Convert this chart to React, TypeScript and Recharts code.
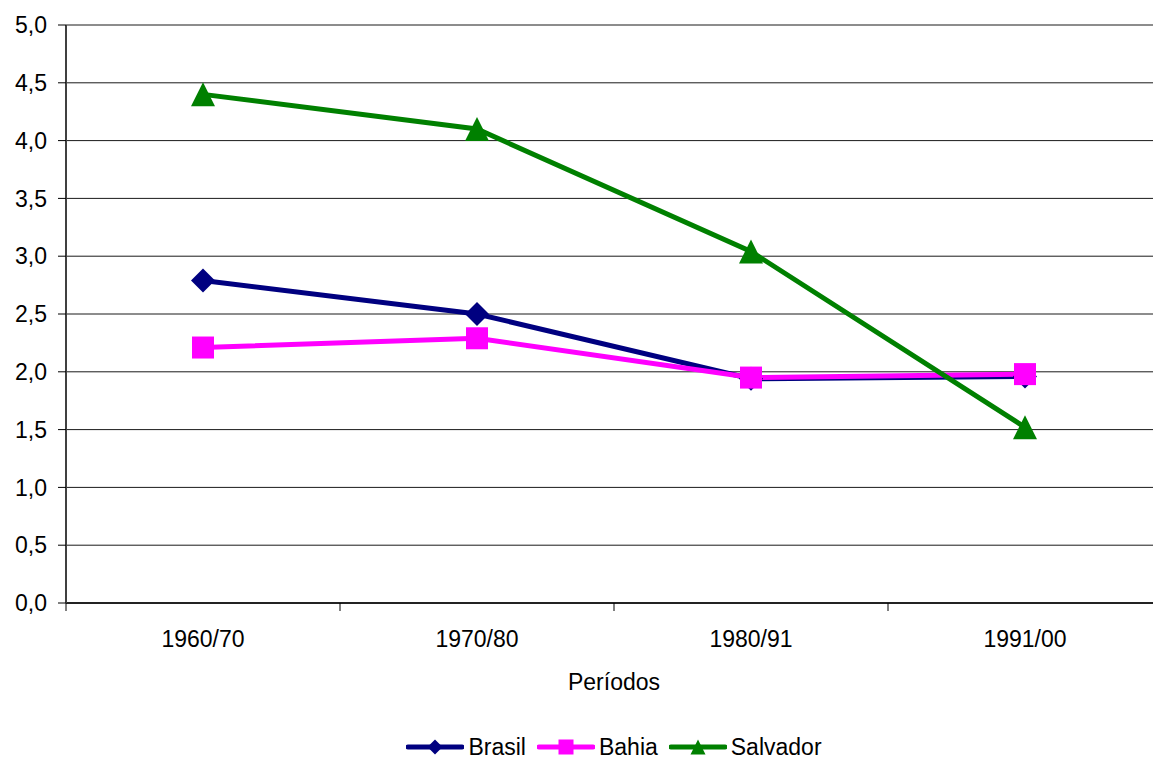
import React from "react";
import {
  LineChart,
  Line,
  XAxis,
  YAxis,
  CartesianGrid,
  Legend,
} from "recharts";

// Taxa de crescimento por período
const periodos = ["1960/70", "1970/80", "1980/91", "1991/00"];
const brasil = [2.79, 2.5, 1.94, 1.96];
const bahia = [2.21, 2.29, 1.95, 1.98];
const salvador = [4.4, 4.1, 3.04, 1.52];
const yTicks = [0, 0.5, 1, 1.5, 2, 2.5, 3, 3.5, 4, 4.5, 5];

const data = periodos.map((periodo, i) => ({
  periodo,
  Brasil: brasil[i],
  Bahia: bahia[i],
  Salvador: salvador[i],
}));

const FONT = "'Liberation Sans', Arial, sans-serif";
const CHART_W = 1170;
const CHART_H = 760;
const Y_W = 66;
const MARGIN = { top: 25, right: 8, left: 0, bottom: 0 };
const BAND = (CHART_W - Y_W - MARGIN.right) / periodos.length;

const NAVY = "#000080";
const MAGENTA = "#FF00FF";
const GREEN = "#008000";

type Shape = "diamond" | "square" | "triangle";

const marker = (shape: Shape, cx: number, cy: number, s: number, fill: string) => {
  const h = s / 2;
  if (shape === "diamond") {
    return (
      <polygon
        points={`${cx},${cy - h} ${cx + h},${cy} ${cx},${cy + h} ${cx - h},${cy}`}
        fill={fill}
      />
    );
  }
  if (shape === "square") {
    return <rect x={cx - h} y={cy - h} width={s} height={s} fill={fill} />;
  }
  return (
    <polygon
      points={`${cx},${cy - h} ${cx + h},${cy + h} ${cx - h},${cy + h}`}
      fill={fill}
    />
  );
};

const makeDot = (shape: Shape, fill: string, size: number) => (props: any) => {
  const { cx, cy, index } = props;
  return <g key={`${shape}-${index}`}>{marker(shape, cx, cy, size, fill)}</g>;
};

// category labels sit in the middle of each band, tick marks on the band edges
const PeriodTick = (props: any) => {
  const { x, y, payload, index } = props;
  const axisY = y - 8;
  const left = x - BAND / 2;
  const right = x + BAND / 2;
  return (
    <g>
      <line x1={left} y1={axisY} x2={left} y2={axisY + 8} stroke="#000" />
      {index === periodos.length - 1 && (
        <line x1={right} y1={axisY} x2={right} y2={axisY + 8} stroke="#000" />
      )}
      <text
        x={x}
        y={y}
        dy={36}
        textAnchor="middle"
        fontFamily={FONT}
        fontSize={23}
        fill="#000"
      >
        {payload.value}
      </text>
    </g>
  );
};

const series: { key: string; color: string; shape: Shape }[] = [
  { key: "Brasil", color: NAVY, shape: "diamond" },
  { key: "Bahia", color: MAGENTA, shape: "square" },
  { key: "Salvador", color: GREEN, shape: "triangle" },
];

const LegendContent = () => (
  <div
    style={{
      display: "flex",
      justifyContent: "center",
      alignItems: "center",
      height: 26,
      fontFamily: FONT,
      fontSize: 23,
      color: "#000",
    }}
  >
    {series.map((s, i) => (
      <div
        key={s.key}
        style={{ display: "flex", alignItems: "center", marginLeft: i === 0 ? 0 : 11 }}
      >
        <svg width={58} height={20} style={{ marginRight: 4 }}>
          <line x1={2} y1={10} x2={56} y2={10} stroke={s.color} strokeWidth={5} strokeLinecap="round" />
          {marker(s.shape, 29, 10, 15, s.color)}
        </svg>
        <span>{s.key}</span>
      </div>
    ))}
  </div>
);

export default function App() {
  return (
    <div
      style={{
        position: "absolute",
        left: 0,
        top: 0,
        width: 1153,
        height: 760,
        overflow: "hidden",
        background: "#fff",
      }}
    >
      <LineChart width={CHART_W} height={CHART_H} data={data} margin={MARGIN}>
        <CartesianGrid vertical={false} stroke="#1a1a1a" strokeWidth={1} />
        <XAxis
          dataKey="periodo"
          height={131}
          padding={{ left: BAND / 2, right: BAND / 2 }}
          tickSize={8}
          tickMargin={0}
          tickLine={false}
          tick={<PeriodTick />}
          axisLine={{ stroke: "#000", strokeWidth: 1.5 }}
          interval={0}
          label={{
            value: "Períodos",
            position: "insideBottom",
            offset: 44,
            fontFamily: FONT,
            fontSize: 23,
            fill: "#000",
          }}
        />
        <YAxis
          width={Y_W}
          domain={[0, 5]}
          ticks={yTicks}
          interval={0}
          tickSize={8}
          tickMargin={11}
          tickLine={{ stroke: "#000" }}
          axisLine={{ stroke: "#404040", strokeWidth: 2 }}
          tickFormatter={(v: number) => v.toFixed(1).replace(".", ",")}
          tick={{ fontFamily: FONT, fontSize: 23, fill: "#000" }}
        />
        <Legend
          verticalAlign="bottom"
          content={<LegendContent />}
          wrapperStyle={{ left: Y_W, width: CHART_W - Y_W - MARGIN.right }}
        />
        {series.map((s) => (
          <Line
            key={s.key}
            type="linear"
            dataKey={s.key}
            stroke={s.color}
            strokeWidth={5}
            dot={makeDot(s.shape, s.color, s.shape === "square" ? 22 : 24)}
            activeDot={false}
            isAnimationActive={false}
          />
        ))}
      </LineChart>
    </div>
  );
}
